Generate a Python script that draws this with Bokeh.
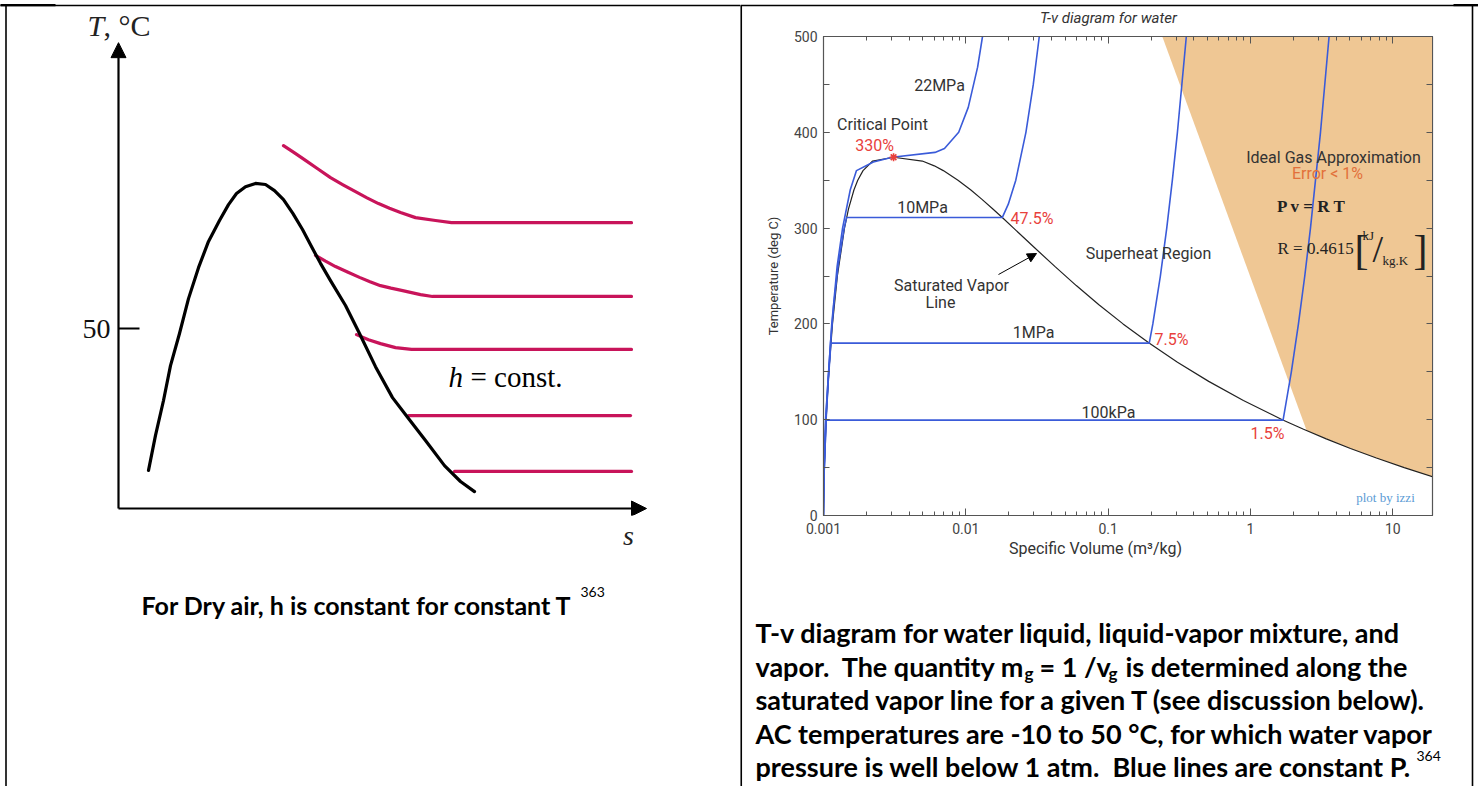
import math
from bokeh.plotting import figure
from bokeh.layouts import row
from bokeh.models import (Range1d, Arrow, NormalHead, LogAxis, LinearAxis,
                          FixedTicker, SingleIntervalTicker, CustomJSTickFormatter)
from bokeh.core.properties import value
from bokeh.embed import file_html
from bokeh.resources import INLINE

# ================= LEFT PANEL DATA (schematic T-s diagram) =================
dome_s = [0.60, 0.74, 0.90, 1.04, 1.22, 1.40, 1.60, 1.80, 2.02, 2.20, 2.36, 2.54, 2.74, 2.94, 3.12,
          3.30, 3.49, 3.68, 3.87, 4.04, 4.24, 4.54, 4.82, 5.14, 5.48, 5.80, 6.14, 6.52, 6.84, 7.12]
dome_T = [10.6, 20.3, 30.0, 39.7, 48.6, 58.3, 66.9, 74.2, 80.0, 84.4, 87.5, 89.4, 90.3, 90.0, 88.3,
          85.8, 81.9, 77.5, 72.5, 68.1, 63.3, 56.4, 48.6, 39.4, 30.8, 25.0, 18.9, 11.9, 7.5, 4.7]

h1_s = [3.30, 3.52, 3.74, 3.99, 4.24, 4.49, 4.74, 4.97, 5.20, 5.42, 5.64, 5.94, 6.34, 6.66, 10.26]
h1_T = [100.8, 98.8, 96.7, 94.3, 91.9, 89.9, 88.0, 86.3, 84.7, 83.4, 82.2, 80.8, 80.0, 79.4, 79.4]
h2_s = [3.94, 4.14, 4.34, 4.58, 4.82, 5.03, 5.24, 5.45, 5.66, 6.04, 6.28, 10.26]
h2_T = [70.3, 68.7, 67.2, 65.7, 64.2, 63.0, 61.9, 61.2, 60.6, 59.4, 58.9, 58.9]
h3_s = [4.76, 5.00, 5.24, 5.54, 5.86, 10.26]
h3_T = [48.3, 46.9, 45.8, 44.7, 44.2, 44.2]
h4_s = [5.80, 10.24]
h4_T = [25.8, 25.8]
h5_s = [6.72, 10.26]
h5_T = [10.3, 10.3]

left_tick_T = 50
left_tick_label = "50"
s_axis_end = 10.56
T_axis_end = 129.4

# ================= RIGHT PANEL DATA (T-v diagram for water) =================
liq_T = [0.01, 50, 100, 150, 200, 250, 300, 320, 340, 350, 360, 370, 373.95]
liq_v = [0.0010002, 0.0010121, 0.0010435, 0.0010905, 0.0011565, 0.0012517, 0.0014041,
         0.0014988, 0.0016379, 0.0017403, 0.0018954, 0.0022152, 0.0031060]
vap_T = [373.95, 370, 365, 360, 350, 340, 330, 320, 310, 300, 280, 260, 240, 220, 200,
         180, 160, 140, 120, 100, 90, 80, 70, 60, 50, 40, 30]
vap_v = [0.003106, 0.004946, 0.006005, 0.006945, 0.008806, 0.010797, 0.012989, 0.015488,
         0.018350, 0.021659, 0.030166, 0.042195, 0.059707, 0.086094, 0.12721, 0.19384,
         0.30680, 0.50850, 0.89133, 1.6720, 2.3591, 3.4053, 5.0396, 7.6677, 12.026,
         19.515, 32.879]

p100kPa_v = [0.0010002, 0.0010078, 0.0010434, 1.6941, 1.9367, 2.1724, 2.4062, 2.6389, 3.1027, 3.5655]
p100kPa_T = [0, 40, 99.6, 99.6, 150, 200, 250, 300, 400, 500]
p1MPa_v = [0.0009997, 0.0010073, 0.0010430, 0.0010796, 0.0011272, 0.19436, 0.20602,
           0.23275, 0.25799, 0.28250, 0.30661, 0.35411]
p1MPa_T = [0, 40, 100, 140, 179.9, 179.9, 200, 250, 300, 350, 400, 500]
p10MPa_v = [0.0009952, 0.0010034, 0.0010127, 0.0010385, 0.0010750, 0.0011199, 0.0011805,
            0.0012660, 0.0013972, 0.0014526, 0.018028, 0.019877, 0.022440, 0.026436,
            0.029782, 0.032811]
p10MPa_T = [0, 40, 60, 100, 140, 180, 220, 260, 300, 311.0, 311.0, 325, 350, 400, 450, 500]
p22MPa_v = [0.0009904, 0.0010333, 0.0011432, 0.0012467, 0.0013614, 0.0015423, 0.0017050,
            0.00224, 0.00304, 0.00607, 0.00708, 0.00891, 0.0104, 0.0121, 0.0131]
p22MPa_T = [0, 100, 200, 260, 300, 340, 360, 369, 374, 379, 383, 400, 426, 468, 500]

crit_v = [0.003106]
crit_T = [373.95]

ideal_v = [0.24, 19, 19, 15.25, 12.03, 7.667, 5.042, 3.405, 2.48]
ideal_T = [500, 500, 40.4, 45, 50, 60, 70, 80, 88.7]

x_ticks = [0.001, 0.01, 0.1, 1, 10]
x_minor = [m * d for d in x_ticks for m in range(2, 10)]

# ================= COMMON LAYOUT =================
FR_TOP, FR_H = 36, 479           # both figures share the frame rows (row aligns them)
TOTAL_H = 786
BOT = TOTAL_H - FR_TOP - FR_H
BLK = "black"
SERIF = "Liberation Serif"
CAP = "Lato"
SANS = "Roboto"
NB = "\u00a0"

def put_text(fig, x, y, text, size, color="black", font=SANS, align="left", style="normal"):
    fig.text(x=[x], y=[y], text=[text], text_font=value(font), text_font_size=value(size),
             text_font_style=style, text_color=color, text_align=align, text_baseline="middle",
             level="overlay")

# ================= LEFT FIGURE =================
def lx(px):
    return (px - 118) / 50.0

def ly(py):
    return (508 - py) / 3.6

lf = figure(width=740, height=TOTAL_H, frame_width=740, frame_height=FR_H,
            x_range=Range1d(lx(0), lx(740)), y_range=Range1d(ly(FR_TOP + FR_H), ly(FR_TOP)),
            min_border_left=0, min_border_right=0, min_border_top=FR_TOP, min_border_bottom=BOT,
            toolbar_location=None, output_backend="svg",
            x_axis_location=None, y_axis_location=None)
lf.outline_line_color = None
lf.xgrid.visible = False
lf.ygrid.visible = False

# table borders
lf.line([lx(5.5), lx(5.5)], [ly(5), ly(786)], line_color=BLK, line_width=1.6, level="overlay")
lf.line([lx(0), lx(740)], [ly(5), ly(5)], line_color=BLK, line_width=1.5, level="overlay")
lf.line([lx(0), lx(55)], [ly(4.6), ly(4.6)], line_color=BLK, line_width=2.2, level="overlay")

PINK = "#C8145A"
for s_, t_ in [(h1_s, h1_T), (h2_s, h2_T), (h3_s, h3_T), (h4_s, h4_T), (h5_s, h5_T)]:
    lf.line(s_, t_, line_color=PINK, line_width=3.2, line_cap="round", line_join="round")
lf.line(dome_s, dome_T, line_color=BLK, line_width=3.2, line_cap="round", line_join="round")

lf.add_layout(Arrow(x_start=0, y_start=0, x_end=0, y_end=T_axis_end, line_width=2.2, line_color=BLK,
                    end=NormalHead(size=15, fill_color=BLK, line_color=BLK)))
lf.add_layout(Arrow(x_start=0, y_start=0, x_end=s_axis_end, y_end=0, line_width=2.2, line_color=BLK,
                    end=NormalHead(size=15, fill_color=BLK, line_color=BLK)))
lf.line([0, lx(139)], [left_tick_T, left_tick_T], line_color=BLK, line_width=2)

put_text(lf, lx(110), left_tick_T, left_tick_label, "28px", "#111111", SERIF, "right")
put_text(lf, lx(87), ly(25), "T", "30px", "#222222", SERIF, "left", "italic")
put_text(lf, lx(103), ly(25), ", °C", "30px", "#222222", SERIF, "left")
put_text(lf, lx(628), ly(535), "s", "28px", "#222222", SERIF, "center", "italic")
put_text(lf, lx(448), ly(376), "h", "29px", BLK, SERIF, "left", "italic")
put_text(lf, lx(470), ly(376), "= const.", "29px", BLK, SERIF, "left")

put_text(lf, lx(141), ly(604), "For Dry air, h is constant for constant T", "25px", BLK, CAP, "left", "bold")
put_text(lf, lx(580), ly(591), "363", "14px", BLK, CAP, "left")

# ================= RIGHT FIGURE =================
R_W = 738
RX0 = 823.0
FRW = 609
RDEC = FRW / math.log10(19 / 0.001)
def xd(px):
    return 0.001 * 10 ** ((px - RX0) / RDEC)

def yd(py):
    return (FR_TOP + FR_H - py) * 500.0 / FR_H

rf = figure(x_axis_type="log", x_range=Range1d(0.001, 19), y_range=Range1d(0, 500),
            width=R_W, height=TOTAL_H, frame_width=FRW, frame_height=FR_H,
            min_border_left=int(RX0 - 740), min_border_right=R_W - int(RX0 - 740) - FRW,
            min_border_top=FR_TOP, min_border_bottom=BOT,
            toolbar_location=None, output_backend="svg")
rf.xgrid.visible = False
rf.ygrid.visible = False
rf.outline_line_color = "#555555"
rf.outline_line_width = 1.2

AX = "#555555"
xa = rf.xaxis[0]
xa.ticker = FixedTicker(ticks=x_ticks, minor_ticks=x_minor)
xa.formatter = CustomJSTickFormatter(code="return String(Number(tick.toPrecision(3)))")
ya = rf.yaxis[0]
ya.ticker = SingleIntervalTicker(interval=100, num_minor_ticks=2)
for ax in (xa, ya):
    ax.axis_line_color = AX
    ax.major_tick_line_color = AX
    ax.minor_tick_line_color = AX
    ax.major_tick_out = 0
    ax.minor_tick_out = 0
    ax.major_label_text_font = SANS
    ax.major_label_text_font_size = "14px"
    ax.major_label_text_color = "#444444"
xa.major_tick_in = 7
xa.minor_tick_in = 4
xa.major_label_standoff = 7
ya.major_tick_in = 6
ya.minor_tick_in = 6
ya.major_label_standoff = 6
ya.axis_label = "Temperature (deg C)"
ya.axis_label_text_font = SANS
ya.axis_label_text_font_style = "normal"
ya.axis_label_text_font_size = "13px"
ya.axis_label_text_color = "#333333"
ya.axis_label_standoff = 10

blank = CustomJSTickFormatter(code="return ''")
top = LogAxis(ticker=FixedTicker(ticks=x_ticks, minor_ticks=x_minor), formatter=blank,
              major_label_standoff=0, major_tick_in=7, major_tick_out=0, minor_tick_in=4, minor_tick_out=0,
              axis_line_color=AX, major_tick_line_color=AX, minor_tick_line_color=AX)
rf.add_layout(top, "above")
right = LinearAxis(ticker=SingleIntervalTicker(interval=50, num_minor_ticks=0), formatter=blank,
                   major_label_standoff=0, major_tick_in=6, major_tick_out=0, minor_tick_in=0, minor_tick_out=0,
                   axis_line_color=AX, major_tick_line_color=AX)
rf.add_layout(right, "right")

rf.patch(ideal_v, ideal_T, fill_color="#EFC794", line_color=None)
rf.line(liq_v, liq_T, line_color="#222222", line_width=1.2)
rf.line(vap_v, vap_T, line_color="#222222", line_width=1.2)
BLUE = "#3A5BD9"
for v_, t_ in [(p100kPa_v, p100kPa_T), (p1MPa_v, p1MPa_T), (p10MPa_v, p10MPa_T), (p22MPa_v, p22MPa_T)]:
    rf.line(v_, t_, line_color=BLUE, line_width=1.6)
rf.scatter(crit_v, crit_T, marker="asterisk", size=8, line_color="#E8413C", line_width=1.6)

rf.add_layout(Arrow(x_start=xd(998), y_start=yd(274), x_end=xd(1036), y_end=yd(253), line_width=1,
                    line_color=BLK, end=NormalHead(size=9, fill_color=BLK, line_color=BLK)))

# table borders (outside the frame, drawn unclipped)
rf.line([xd(740), xd(1478)], [yd(5), yd(5)], line_color=BLK, line_width=1.5, level="overlay")
rf.line([xd(1453), xd(1478)], [yd(4.6), yd(4.6)], line_color=BLK, line_width=2.2, level="overlay")
rf.line([xd(740.75), xd(740.75)], [yd(5), yd(786)], line_color=BLK, line_width=1.6, level="overlay")
rf.line([xd(1472), xd(1472)], [yd(5), yd(786)], line_color=BLK, line_width=1.6, level="overlay")

def rt(px, py, text, size="16px", color="#333333", font=SANS, align="center", style="normal"):
    put_text(rf, xd(px), yd(py), text, size, color, font, align, style)

RED = "#E8413C"
rt(1108, 17, "T-v diagram for water", size="15px", style="italic")
rt(1095, 548, "Specific Volume (m³/kg)")
rt(939, 85, "22MPa")
rt(882, 124, "Critical Point")
rt(874, 145, "330%", color=RED)
rt(922, 207, "10MPa")
rt(1010, 218, "47.5%", color=RED, align="left")
rt(951, 285, "Saturated Vapor")
rt(940, 302, "Line")
rt(1148, 253, "Superheat Region")
rt(1033, 332, "1MPa")
rt(1154, 339, "7.5%", color=RED, align="left")
rt(1108, 412, "100kPa")
rt(1267, 433, "1.5%", color=RED)
rt(1385, 497, "plot by izzi", size="13px", color="#5B9BD5", font=SERIF)
rt(1333, 157, "Ideal Gas Approximation")
rt(1327, 173, "Error < 1%", color="#E2703A")
rt(1311, 206, "P v = R T", size="17px", color="#222222", font=SERIF, style="bold")
rt(1277, 248, "R = 0.4615", size="17px", color="#222222", font=SERIF, align="left")
rt(1354, 249, "[", size="42px", color="#222222", font=SERIF, align="left")
rt(1362, 235, "kJ", size="13px", color="#222222", font=SERIF, align="left")
rt(1372, 248, "/", size="38px", color="#222222", font=SERIF, align="left")
rt(1382, 260, "kg.K", size="13px", color="#222222", font=SERIF, align="left")
rt(1413, 249, "]", size="42px", color="#222222", font=SERIF, align="left")

CAPSZ = "27px"
def ct(px, py, text, size=CAPSZ, bold=True):
    rt(px, py, text, size=size, color="black", font=CAP, align="left", style="bold" if bold else "normal")

ct(755, 632, "T-v diagram for water liquid, liquid-vapor mixture, and")
ct(755, 666, "vapor." + NB + " The quantity m")
ct(1024, 673, "g", size="17px")
ct(1039, 666, "= 1 /v")
ct(1108, 673, "g", size="17px")
ct(1125, 666, "is determined along the")
ct(755, 699, "saturated vapor line for a given T (see discussion below).")
ct(755, 733, "AC temperatures are -10 to 50 °C, for which water vapor")
ct(755, 766, "pressure is well below 1 atm." + NB + " Blue lines are constant P.")
ct(1416, 755, "364", size="14px", bold=False)

layout = row(lf, rf)
open("out.html", "w").write(file_html(layout, INLINE))
